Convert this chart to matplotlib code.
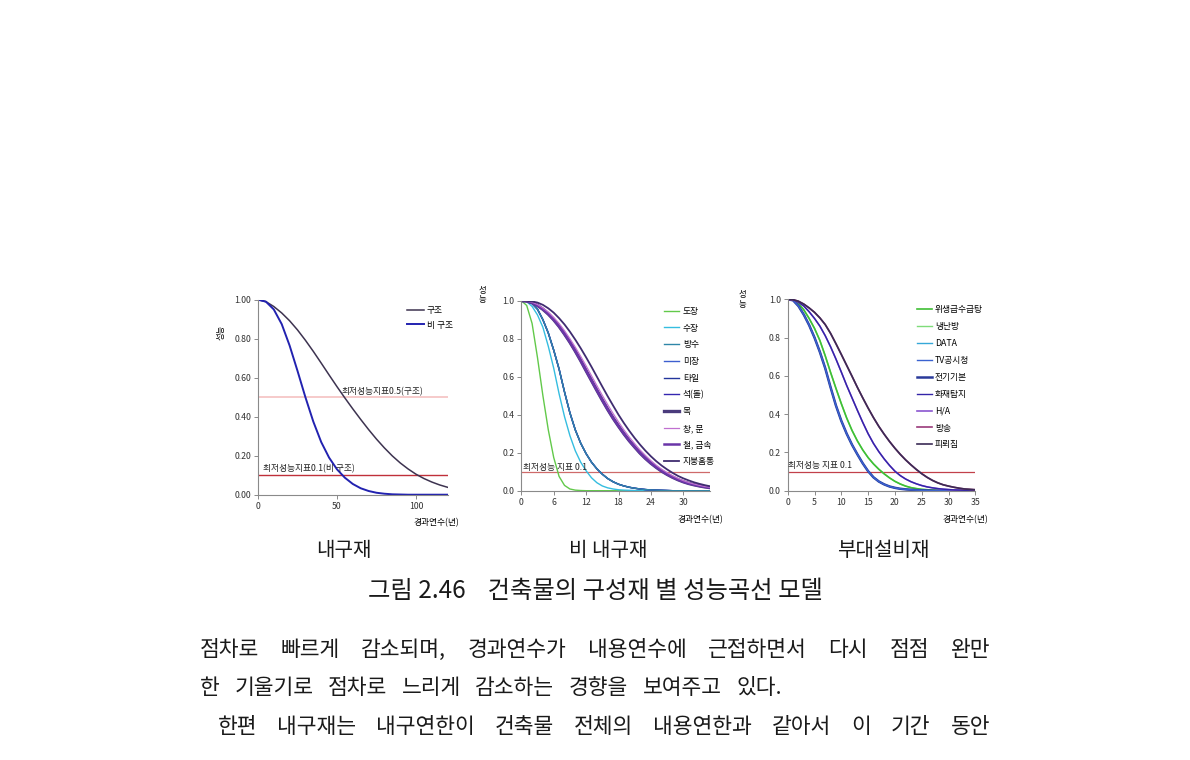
import matplotlib
matplotlib.use("Agg")
import matplotlib.pyplot as plt

plt.rcParams['font.family'] = ['Noto Sans CJK KR', 'DejaVu Sans']

W, H = 1190, 760

# ---- 내구재 (chart 1) ----
years1 = [0, 5, 10, 15, 20, 25, 30, 35, 40, 45, 50, 55, 60, 65, 70, 75, 80, 85, 90, 95, 100, 105, 110, 115, 120]
gujo = [1.0, 0.99, 0.965, 0.932, 0.892, 0.845, 0.792, 0.735, 0.675, 0.614, 0.554, 0.496, 0.44, 0.386, 0.334,
        0.285, 0.24, 0.199, 0.163, 0.132, 0.105, 0.083, 0.065, 0.05, 0.038]
bigujo = [1.0, 0.99, 0.95, 0.875, 0.765, 0.635, 0.50, 0.375, 0.27, 0.19, 0.13, 0.087, 0.055, 0.033, 0.019,
          0.01, 0.005, 0.002, 0.001, 0.0, 0.0, 0.0, 0.0, 0.0, 0.0]

# ---- 비 내구재 (chart 2) ----
years2 = list(range(0, 36))
dojang = [1.0, 0.975, 0.88, 0.70, 0.50, 0.32, 0.175, 0.075, 0.028, 0.009, 0.003, 0.001] + [0.0] * 24
sujang = [1.0, 0.995, 0.97, 0.925, 0.86, 0.76, 0.645, 0.51, 0.39, 0.29, 0.21, 0.15, 0.105, 0.068, 0.042,
          0.025, 0.015, 0.009, 0.005, 0.003, 0.002, 0.001] + [0.0] * 14
bangsu = [1.0, 0.997, 0.985, 0.955, 0.9, 0.83, 0.74, 0.64, 0.52, 0.41, 0.32, 0.25, 0.195, 0.15, 0.115,
          0.087, 0.064, 0.047, 0.034, 0.025, 0.018, 0.013, 0.009, 0.006, 0.004, 0.003, 0.002, 0.001] + [0.0] * 8
mok = [1.0, 0.998, 0.99, 0.975, 0.955, 0.93, 0.9, 0.865, 0.825, 0.782, 0.735, 0.685, 0.632, 0.58, 0.528,
       0.477, 0.428, 0.382, 0.34, 0.3, 0.263, 0.23, 0.198, 0.17, 0.145, 0.123, 0.103, 0.086, 0.071, 0.058,
       0.047, 0.038, 0.031, 0.025, 0.02, 0.016]
changmun = [1.0, 0.999, 0.992, 0.98, 0.962, 0.94, 0.912, 0.88, 0.842, 0.8, 0.755, 0.707, 0.657, 0.605, 0.553,
            0.502, 0.453, 0.406, 0.362, 0.32, 0.282, 0.247, 0.214, 0.185, 0.158, 0.134, 0.113, 0.095, 0.079,
            0.065, 0.053, 0.043, 0.035, 0.028, 0.022, 0.018]
jibung = [1.0, 0.999, 0.996, 0.99, 0.978, 0.96, 0.937, 0.908, 0.875, 0.837, 0.795, 0.75, 0.702, 0.652, 0.6,
          0.548, 0.497, 0.448, 0.4, 0.356, 0.315, 0.277, 0.242, 0.21, 0.181, 0.155, 0.132, 0.112, 0.094,
          0.078, 0.065, 0.054, 0.044, 0.036, 0.029, 0.023]

# ---- 부대설비재 (chart 3) ----
years3 = list(range(0, 36))
jeongi = [1.0, 0.995, 0.965, 0.92, 0.865, 0.8, 0.725, 0.64, 0.54, 0.445, 0.365, 0.298, 0.24, 0.19, 0.143,
          0.102, 0.07, 0.048, 0.033, 0.022, 0.015, 0.01, 0.007, 0.005, 0.003, 0.002, 0.001] + [0.0] * 9
wisaeng = [1.0, 0.996, 0.978, 0.945, 0.9, 0.848, 0.785, 0.705, 0.618, 0.535, 0.455, 0.38, 0.315, 0.26, 0.213,
           0.173, 0.14, 0.112, 0.088, 0.067, 0.049, 0.035, 0.024, 0.016, 0.011, 0.007, 0.005, 0.003,
           0.002, 0.001] + [0.0] * 6
hwajae = [1.0, 0.997, 0.985, 0.965, 0.935, 0.9, 0.86, 0.81, 0.752, 0.688, 0.62, 0.55, 0.485, 0.42, 0.357,
          0.298, 0.247, 0.204, 0.166, 0.132, 0.102, 0.079, 0.061, 0.047, 0.036, 0.027, 0.02, 0.015, 0.011,
          0.008, 0.006, 0.004, 0.003, 0.002, 0.001, 0.001]
pyroe = [1.0, 0.998, 0.99, 0.975, 0.955, 0.932, 0.903, 0.868, 0.822, 0.768, 0.712, 0.655, 0.598, 0.54, 0.485,
         0.432, 0.382, 0.336, 0.295, 0.257, 0.222, 0.19, 0.161, 0.135, 0.111, 0.089, 0.07, 0.054, 0.041,
         0.031, 0.024, 0.018, 0.013, 0.009, 0.007, 0.005]

# (label, data, color, linewidth)
series2 = [
    ('도장', dojang, '#62c94a', 1.0),
    ('수장', sujang, '#35bde0', 1.0),
    ('미장', bangsu, '#3d5fcf', 1.0),
    ('타일', bangsu, '#23359c', 1.0),
    ('석(돌)', bangsu, '#3426b0', 1.0),
    ('방수', bangsu, '#2f86a8', 1.0),
    ('목', mok, '#4a3b7c', 2.4),
    ('철, 금속', mok, '#6a35a8', 1.8),
    ('창, 문', changmun, '#c070d0', 0.9),
    ('지붕홈통', jibung, '#3f2c70', 1.3),
]
legend2 = ['도장', '수장', '방수', '미장', '타일', '석(돌)', '목', '창, 문', '철, 금속', '지붕홈통']

series3 = [
    ('냉난방', wisaeng, '#7fdc7a', 1.0),
    ('위생급수급탕', wisaeng, '#3fbf35', 1.2),
    ('DATA', jeongi, '#35a8d8', 1.0),
    ('전기기본', jeongi, '#2a3a9a', 1.8),
    ('TV공시청', jeongi, '#3a62d0', 1.0),
    ('H/A', hwajae, '#8a55d0', 1.2),
    ('화재탐지', hwajae, '#3324a8', 1.0),
    ('방송', pyroe, '#9a3a7a', 1.2),
    ('피뢰침', pyroe, '#3b2b55', 1.2),
]
legend3 = ['위생급수급탕', '냉난방', 'DATA', 'TV공시청', '전기기본', '화재탐지', 'H/A', '방송', '피뢰침']

fig = plt.figure(figsize=(W / 100, H / 100), dpi=100)
fig.patch.set_facecolor('white')


def make_axes(left, bottom, right, top):
    ax = fig.add_axes([left / W, 1 - bottom / H, (right - left) / W, (bottom - top) / H])
    for s in ['top', 'right']:
        ax.spines[s].set_visible(False)
    for s in ['left', 'bottom']:
        ax.spines[s].set_color('#8a8a8a')
        ax.spines[s].set_linewidth(0.8)
    ax.tick_params(direction='out', length=3, width=0.7, color='#8a8a8a', labelsize=6.3,
                   labelcolor='#333333', pad=2)
    ax.set_ylim(0, 1)
    return ax


# chart 1
ax1 = make_axes(258, 494.7, 447.6, 299.7)
ax1.set_xlim(0, 120)
ax1.axhline(0.5, color='#f6c6c6', lw=1.3)
ax1.axhline(0.1, color='#c0303a', lw=1.0)
ax1.plot(years1, gujo, color='#3d3350', lw=1.1, label='구조')
ax1.plot(years1, bigujo, color='#2222b0', lw=1.4, label='비 구조')
ax1.set_xticks([0, 50, 100])
ax1.set_yticks([0, 0.2, 0.4, 0.6, 0.8, 1.0])
ax1.set_yticklabels(['0.00', '0.20', '0.40', '0.60', '0.80', '1.00'])
ax1.text(53, 0.53, '최저성능지표0.5(구조)', fontsize=6.3, color='#222222', va='center')
ax1.text(3.4, 0.132, '최저성능지표0.1(비 구조)', fontsize=6.3, color='#222222', va='center')
ax1.text(-0.195, 0.83, '성능', rotation=90, fontsize=6, transform=ax1.transAxes, ha='center', va='center')
ax1.text(0.94, -0.145, '경과연수(년)', fontsize=6.3, transform=ax1.transAxes, ha='center', va='center')
ax1.legend(loc='upper left', bbox_to_anchor=(0.755, 1.0), frameon=False, fontsize=6.3,
           handlelength=1.9, handletextpad=0.3, labelspacing=0.65, borderpad=0.2)

# chart 2
ax2 = make_axes(521.3, 490.7, 710.3, 300.7)
ax2.set_xlim(0, 35)
ax2.axhline(0.1, color='#cf6a6a', lw=0.9)
handles2 = {}
for name, data, color, lw in series2:
    handles2[name], = ax2.plot(years2, data, color=color, lw=lw)
ax2.set_xticks([0, 6, 12, 18, 24, 30])
ax2.set_yticks([0, 0.2, 0.4, 0.6, 0.8, 1.0])
ax2.set_yticklabels(['0.0', '0.2', '0.4', '0.6', '0.8', '1.0'])
ax2.text(0.4, 0.123, '최저성능 지표 0.1', fontsize=6.3, color='#222222', va='center')
ax2.text(-0.208, 1.03, '성\n능', fontsize=6, transform=ax2.transAxes, ha='center', va='center',
         linespacing=1.1)
ax2.text(0.945, -0.15, '경과연수(년)', fontsize=6.3, transform=ax2.transAxes, ha='center', va='center')
ax2.legend([handles2[n] for n in legend2], legend2, loc='upper left', bbox_to_anchor=(0.725, 1.0),
           frameon=False, fontsize=6.3, handlelength=1.7, handletextpad=0.4, labelspacing=0.88, borderpad=0.2)

# chart 3
ax3 = make_axes(787.7, 490.7, 975.3, 299.3)
ax3.set_xlim(0, 35)
ax3.axhline(0.1, color='#c2404a', lw=0.9)
handles3 = {}
for name, data, color, lw in series3:
    handles3[name], = ax3.plot(years3, data, color=color, lw=lw)
ax3.set_xticks([0, 5, 10, 15, 20, 25, 30, 35])
ax3.set_yticks([0, 0.2, 0.4, 0.6, 0.8, 1.0])
ax3.set_yticklabels(['0.0', '0.2', '0.4', '0.6', '0.8', '1.0'])
ax3.text(0.0, 0.134, '최저성능 지표 0.1', fontsize=6.3, color='#222222', va='center')
ax3.text(-0.244, 1.0, '성\n능', fontsize=6, transform=ax3.transAxes, ha='center', va='center',
         linespacing=1.1)
ax3.text(0.945, -0.15, '경과연수(년)', fontsize=6.3, transform=ax3.transAxes, ha='center', va='center')
ax3.legend([handles3[n] for n in legend3], legend3, loc='upper left', bbox_to_anchor=(0.655, 1.0),
           frameon=False, fontsize=6.3, handlelength=1.7, handletextpad=0.4, labelspacing=0.9, borderpad=0.2)

# captions
fig.text(344 / W, 1 - 551 / H, '내구재', fontsize=14.5, ha='center', va='center', color='#1a1a1a')
fig.text(608 / W, 1 - 551 / H, '비 내구재', fontsize=14.5, ha='center', va='center', color='#1a1a1a')
fig.text(883 / W, 1 - 551 / H, '부대설비재', fontsize=14.5, ha='center', va='center', color='#1a1a1a')
fig.text(595 / W, 1 - 591 / H, '그림 2.46    건축물의 구성재 별 성능곡선 모델', fontsize=17.5,
         ha='center', va='center', color='#1a1a1a')

# body text
renderer = fig.canvas.get_renderer()


def body_line(text, x0, y, x1=None, size=15.5):
    words = text.split(' ')
    objs = [fig.text(0, 1 - y / H, w, fontsize=size, va='center', color='#1a1a1a') for w in words]
    widths = [t.get_window_extent(renderer).width for t in objs]
    space = objs[0].get_fontsize() * 0.3
    gap = space if x1 is None else (x1 - x0 - sum(widths)) / (len(words) - 1)
    x = x0
    for t, w in zip(objs, widths):
        t.set_x(x / W)
        x += w + gap


body_line('점차로 빠르게 감소되며, 경과연수가 내용연수에 근접하면서 다시 점점 완만', 200, 650, 990)
body_line('한 기울기로 점차로 느리게 감소하는 경향을 보여주고 있다.', 200, 688, 782)
body_line('한편 내구재는 내구연한이 건축물 전체의 내용연한과 같아서 이 기간 동안', 218, 727, 990)

fig.savefig('out.png', dpi=100, facecolor='white')
